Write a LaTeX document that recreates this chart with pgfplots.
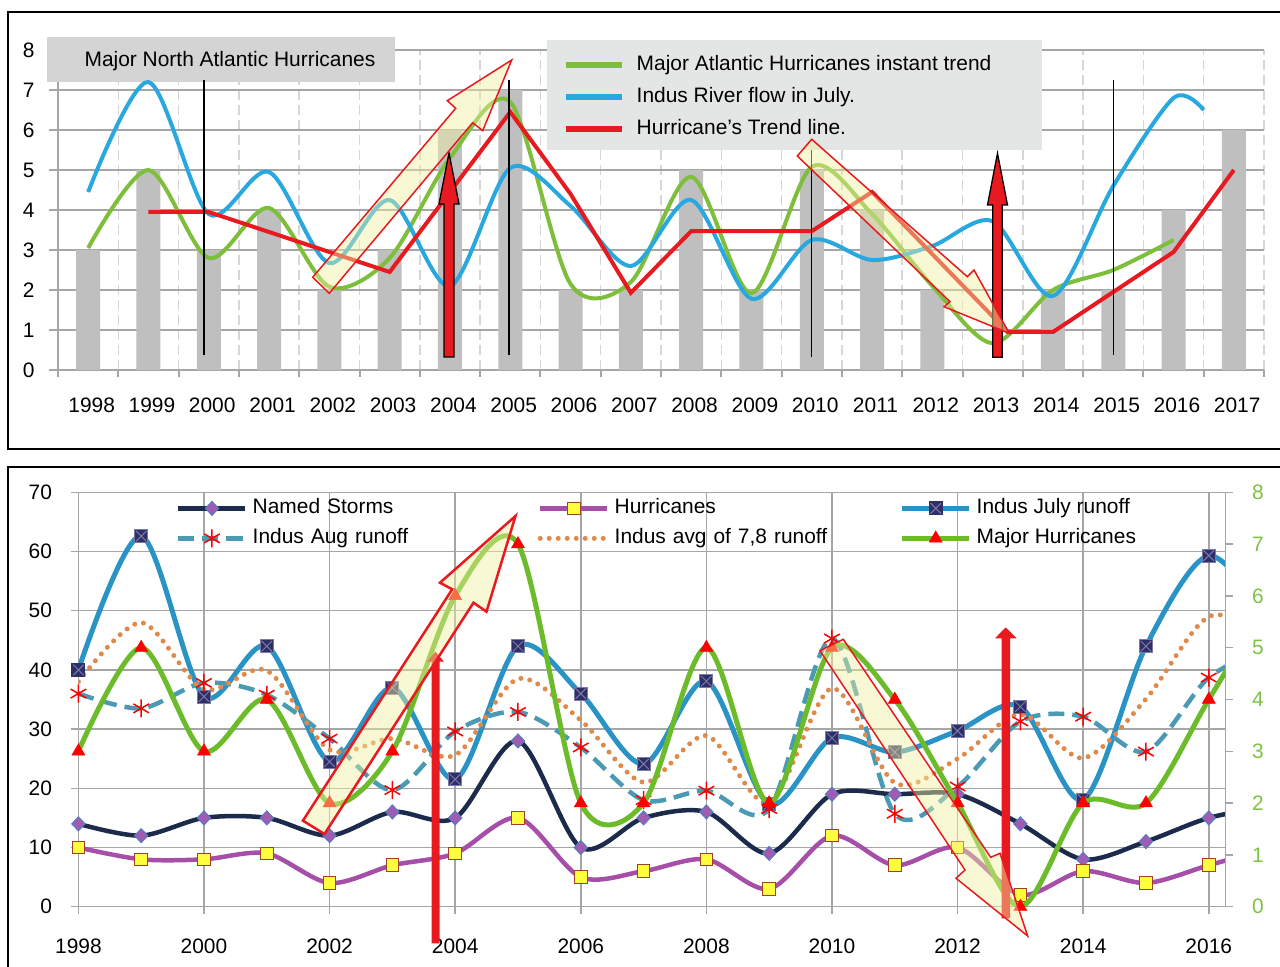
\documentclass[border=0pt]{standalone}
\usepackage{pgfplots}
\pgfplotsset{compat=1.18}
\usepackage{fontspec}
\setmainfont{Liberation Sans}
\definecolor{barg}{HTML}{BFBFBF}
\definecolor{gridg}{HTML}{A6A6A6}
\definecolor{vgrid}{HTML}{D6D6D6}
\definecolor{tgreen}{HTML}{7DBE3A}
\definecolor{tblue}{HTML}{29A8E0}
\definecolor{tred}{HTML}{E8191F}
\definecolor{legg}{HTML}{E4E5E5}
\definecolor{titg}{HTML}{D4D4D4}
\definecolor{navy}{HTML}{1C2B4B}
\definecolor{purp}{HTML}{A25BB2}
\definecolor{pedge}{HTML}{4F7FBF}
\definecolor{mag}{HTML}{A64FA9}
\definecolor{yel}{HTML}{FFFF3C}
\definecolor{brn}{HTML}{A0402C}
\definecolor{jblue}{HTML}{2A93C6}
\definecolor{jmark}{HTML}{2F2F68}
\definecolor{xcol}{HTML}{7A7AAA}
\definecolor{ateal}{HTML}{4A9AB4}
\definecolor{avgor}{HTML}{E08A4A}
\definecolor{mgreen}{HTML}{6CBB2A}
\definecolor{rgreen}{HTML}{7DC242}
\definecolor{arrfill}{HTML}{F0F0A0}
\newcommand{\fs}{\fontsize{21}{25}\selectfont}
\pgfdeclareplotmark{sqx}{%
  \pgfpathrectangle{\pgfpoint{-\pgfplotmarksize}{-\pgfplotmarksize}}{\pgfpoint{2\pgfplotmarksize}{2\pgfplotmarksize}}%
  \pgfusepath{fill,stroke}%
  \pgfsetstrokecolor{xcol}%
  \pgfpathmoveto{\pgfpoint{-.8\pgfplotmarksize}{-.8\pgfplotmarksize}}%
  \pgfpathlineto{\pgfpoint{.8\pgfplotmarksize}{.8\pgfplotmarksize}}%
  \pgfpathmoveto{\pgfpoint{-.8\pgfplotmarksize}{.8\pgfplotmarksize}}%
  \pgfpathlineto{\pgfpoint{.8\pgfplotmarksize}{-.8\pgfplotmarksize}}%
  \pgfusepath{stroke}%
}
\pgfdeclareplotmark{wdiamond}{%
  \pgfpathmoveto{\pgfpoint{0pt}{\pgfplotmarksize}}%
  \pgfpathlineto{\pgfpoint{.95\pgfplotmarksize}{0pt}}%
  \pgfpathlineto{\pgfpoint{0pt}{-\pgfplotmarksize}}%
  \pgfpathlineto{\pgfpoint{-.95\pgfplotmarksize}{0pt}}%
  \pgfpathclose
  \pgfusepath{fill,stroke}%
}
\begin{document}
\begin{tikzpicture}
%================ TOP CHART =================
\begin{axis}[
  at={(58bp,597bp)}, anchor=south west,
  scale only axis, width=1206bp, height=320bp,
  xmin=1997.5, xmax=2017.5, ymin=0, ymax=8,
  clip=false,
  axis x line*=bottom, axis y line*=left,
  axis line style={-, draw=gridg, line width=2bp},
  xtick={1998,1999,...,2017},
  ytick={0,1,...,8},
  minor xtick={1997.5,1998.5,...,2017.5},
  major x tick style={draw=none},
  minor x tick style={draw=gridg, line width=2bp},
  major y tick style={draw=gridg, line width=2bp},
  tick align=outside,
  major tick length=9bp, minor tick length=7bp,
  ymajorgrids, xminorgrids,
  major y grid style={draw=gridg, line width=2bp},
  minor x grid style={draw=vgrid, line width=1.5bp, dash pattern=on 10bp off 5bp},
  tick label style={font=\fs, /pgf/number format/assume math mode=true, /pgf/number format/1000 sep={}},
  xticklabel style={yshift=-15bp, xshift=3.5bp},
  yticklabel style={xshift=-11bp},
  legend style={at={(0.41874,0.984375)}, anchor=north west, draw=none, fill=none,
    inner sep=0pt, row sep=12bp, font=\fs,
    nodes={inner sep=0pt, text height=15bp, text depth=5bp},
    /tikz/every odd column/.append style={column sep=12bp}},
  legend cell align=left,
  legend image code/.code={\draw[#1, line width=5.5bp] (0bp,0bp) -- (56bp,0bp);},
]
\fill[legg] (axis cs:2005.6095,5.5) rectangle (axis cs:2013.8184,8.25);
\fill[titg] (axis cs:1997.318,7.2) rectangle (axis cs:2003.089,8.325);
\node[font=\fs, anchor=center] at (axis cs:2000.352,7.72) {Major North Atlantic Hurricanes};
\addplot[ybar, bar width=24bp, fill=barg, draw=none, forget plot] coordinates {
(1998,3) (1999,5) (2000,3) (2001,4) (2002,2) (2003,3) (2004,6) (2005,7) (2006,2) (2007,2)
(2008,5) (2009,2) (2010,5) (2011,4) (2012,2) (2013,0) (2014,2) (2015,2) (2016,4) (2017,6)};
\addplot[tgreen, line width=4bp, smooth, mark=none] coordinates {
(1998,3.05) (1999,5.0) (2000,2.8) (2001,4.05) (2002,2.08) (2003,2.8) (2004,5.3) (2005,6.7)
(2006,2.15) (2007,2.2) (2008,4.83) (2009,1.92) (2010,5.08) (2011,3.9) (2012,2.1) (2013,0.67)
(2014,2.0) (2015,2.5) (2016,3.25)};
\addlegendentry{Major Atlantic Hurricanes instant trend}
\addplot[tblue, line width=4bp, smooth, mark=none] coordinates {
(1998,4.45) (1999,7.2) (2000,3.9) (2001,4.95) (2002,2.67) (2003,4.25) (2004,2.1) (2005,5.05)
(2006,4.1) (2007,2.6) (2008,4.25) (2009,1.78) (2010,3.25) (2011,2.75) (2012,3.1) (2013,3.72)
(2014,1.85) (2015,4.6) (2016,6.8) (2016.5,6.5)};
\addlegendentry{Indus River flow in July.}
\addplot[tred, line width=4bp, mark=none] coordinates {
(1999,3.95) (2000,3.95) (2003,2.45) (2005,6.45) (2006,4.4) (2007,1.93) (2008,3.47) (2010,3.47)
(2011,4.45) (2013.25,0.95) (2014,0.95) (2016,2.95) (2017,5.0)};
\addlegendentry{Hurricane’s Trend line.}
\draw[black, line width=1.3bp] (axis cs:1999.92,0.375) -- (axis cs:1999.92,7.25);
\draw[black, line width=1.3bp] (axis cs:2004.98,0.375) -- (axis cs:2004.98,7.25);
\draw[black, line width=1.3bp] (axis cs:2010.0,0.33) -- (axis cs:2010.0,5.5);
\draw[black, line width=1.3bp] (axis cs:2015.0,0.375) -- (axis cs:2015.0,7.25);
\end{axis}
%================ BOTTOM CHART (left axis) =================
\begin{axis}[
  at={(78.4bp,60.3bp)}, anchor=south west,
  scale only axis, width=1147.3bp, height=414.4bp,
  xmin=1998, xmax=2016.27, ymin=0, ymax=70,
  axis x line*=bottom, axis y line*=left,
  axis line style={-, draw=gridg, line width=1.5bp},
  xtick={1998,2000,...,2016}, ytick={0,10,...,70},
  grid=major, major grid style={draw=gridg, line width=1.5bp},
  tick align=outside, major tick length=7bp,
  tick style={draw=gridg, line width=1.5bp},
  tick label style={font=\fs, /pgf/number format/assume math mode=true, /pgf/number format/1000 sep={}},
  xticklabel style={yshift=-22bp},
  yticklabel style={xshift=-16bp},
  legend columns=3,
  legend style={at={(0.0851,0.9858)}, anchor=north west, draw=none, fill=none,
    inner sep=0pt, row sep=10bp, font=\fs,
    nodes={inner sep=0pt, text height=15bp, text depth=5bp},
    /tikz/every odd column/.append style={column sep=5bp},
    /tikz/column 2/.append style={text width=285bp},
    /tikz/column 4/.append style={text width=285bp}},
  legend cell align=left,
  legend image code/.code={\draw[mark repeat=2,mark phase=2,#1] plot coordinates {(0bp,0bp) (33.5bp,0bp) (67bp,0bp)};},
]
\addplot[navy, line width=4.5bp, smooth, mark=wdiamond, mark size=7bp,
  mark options={fill=purp, draw=pedge, line width=1bp}] coordinates {
(1998,14) (1999,12) (2000,15) (2001,15) (2002,12) (2003,16) (2004,15) (2005,28) (2006,10) (2007,15)
(2008,16) (2009,9) (2010,19) (2011,19) (2012,19) (2013,14) (2014,8) (2015,11) (2016,15) (2017,17)};
\addlegendentry{Named Storms}
\addplot[mag, line width=4.5bp, smooth, mark=square*, mark size=6.3bp,
  mark options={fill=yel, draw=brn, line width=1bp}] coordinates {
(1998,10) (1999,8) (2000,8) (2001,9) (2002,4) (2003,7) (2004,9) (2005,15) (2006,5) (2007,6)
(2008,8) (2009,3) (2010,12) (2011,7) (2012,10) (2013,2) (2014,6) (2015,4) (2016,7) (2017,10)};
\addlegendentry{Hurricanes}
\addplot[jblue, line width=5bp, smooth, mark=sqx, mark size=6.5bp,
  mark options={fill=jmark, draw=jmark, line width=1bp}] coordinates {
(1998,40) (1999,62.6) (2000,35.5) (2001,44) (2002,24.5) (2003,37) (2004,21.5) (2005,44) (2006,36) (2007,24.1)
(2008,38.1) (2009,17.3) (2010,28.5) (2011,26.1) (2012,29.7) (2013,33.8) (2014,18.1) (2015,44) (2016,59.3) (2017,48)};
\addlegendentry{Indus July runoff}
\addplot[ateal, line width=4.5bp, smooth, dash pattern=on 16bp off 8bp, mark=asterisk, mark size=9bp,
  mark options={solid, draw=red, line width=1.5bp}] coordinates {
(1998,36) (1999,33.5) (2000,37.8) (2001,35.8) (2002,28.4) (2003,19.7) (2004,29.6) (2005,32.9) (2006,26.9) (2007,18)
(2008,19.6) (2009,16.5) (2010,45.3) (2011,15.7) (2012,20.3) (2013,31.3) (2014,32.1) (2015,26.2) (2016,38.7) (2017,44)};
\addlegendentry{Indus Aug runoff}
\addplot[avgor, line width=5bp, smooth, line cap=round, dash pattern=on 0bp off 9bp, mark=none] coordinates {
(1998,38) (1999,48) (2000,36.7) (2001,39.9) (2002,26.5) (2003,28.4) (2004,25.6) (2005,38.5) (2006,31.5) (2007,21)
(2008,28.9) (2009,17.5) (2010,36.9) (2011,20.9) (2012,25) (2013,32.5) (2014,25.1) (2015,35.1) (2016,49) (2017,46)};
\addlegendentry{Indus avg of 7,8 runoff}
\addlegendimage{mgreen, line width=5bp, mark=triangle*, mark size=7.5bp, mark options={fill=red, draw=red, line width=0.5bp}}
\addlegendentry{Major Hurricanes}
\end{axis}
%================ BOTTOM CHART (right axis) =================
\begin{axis}[
  at={(78.4bp,60.3bp)}, anchor=south west,
  scale only axis, width=1147.3bp, height=414.4bp,
  xmin=1998, xmax=2016.27, ymin=0, ymax=8,
  axis y line*=right, axis x line=none,
  axis line style={-, draw=gridg, line width=1.5bp},
  ytick={0,1,...,8},
  tick align=outside, major tick length=7bp,
  tick style={draw=gridg, line width=1.5bp},
  yticklabel style={font=\fs, text=rgreen, xshift=16bp, /pgf/number format/assume math mode=true},
]
\addplot[mgreen, line width=5bp, smooth, mark=triangle*, mark size=7.5bp,
  mark options={fill=red, draw=red, line width=0.5bp}] coordinates {
(1998,3) (1999,5) (2000,3) (2001,4) (2002,2) (2003,3) (2004,6) (2005,7) (2006,2) (2007,2)
(2008,5) (2009,2) (2010,5) (2011,4) (2012,2) (2013,0) (2014,2) (2015,2) (2016,4) (2017,6)};
\end{axis}
%================ ANNOTATIONS =================
\begin{scope}[x=1bp,y=1bp]
\filldraw[fill=tred, draw=black, line width=1.3bp, line join=miter]
  (444,610) -- (454,610) -- (454,763) -- (459,763) -- (449,814) -- (439,763) -- (444,763) -- cycle;
\filldraw[fill=tred, draw=black, line width=1.3bp, line join=miter]
  (992.7,609.7) -- (1002.3,609.7) -- (1002.3,762) -- (1007.5,762) -- (997.5,813.7) -- (987.5,762) -- (992.7,762) -- cycle;
\fill[tred] (431.5,23.7) -- (439.5,23.7) -- (439.5,305.3) -- (444,305.3) -- (435.5,315.3) -- (427,305.3) -- (431.5,305.3) -- cycle;
\fill[tred] (1001.7,48.7) -- (1010,48.7) -- (1010,328.7) -- (1016.7,328.7) -- (1005.8,339.7) -- (995,328.7) -- (1001.7,328.7) -- cycle;
\filldraw[fill=arrfill, fill opacity=0.45, draw=tred, line width=1.5bp]
  (312.7,689.7) -- (455.7,858.7) -- (447.3,866.3) -- (511.7,907) -- (482.7,836.3) -- (472.7,844.3) -- (329.3,673.7) -- cycle;
\filldraw[fill=arrfill, fill opacity=0.45, draw=tred, line width=1.5bp]
  (797.3,811) -- (950,665.3) -- (944,660.3) -- (1009.3,633.7) -- (974,697) -- (967.3,690.3) -- (811.7,827.7) -- cycle;
\filldraw[fill=arrfill, fill opacity=0.45, draw=tred, line width=2.5bp]
  (302.9,146.3) -- (452.2,377.7) -- (440,384.3) -- (515.5,451) -- (486.5,355.3) -- (473.5,364.3) -- (324.5,133) -- cycle;
\filldraw[fill=arrfill, fill opacity=0.45, draw=tred, line width=1.5bp]
  (820,316.3) -- (965,97) -- (956,88.7) -- (1027.7,31) -- (1000,113.7) -- (990.7,109.7) -- (843.3,327.7) -- cycle;
\draw[black, line width=2.7bp] (8,518) rectangle (1300,955);
\draw[black, line width=2.7bp] (8,-30) rectangle (1300,500);
\end{scope}
\pgfresetboundingbox
\useasboundingbox (0bp,0bp) rectangle (1280bp,967bp);
\end{tikzpicture}
\end{document}
